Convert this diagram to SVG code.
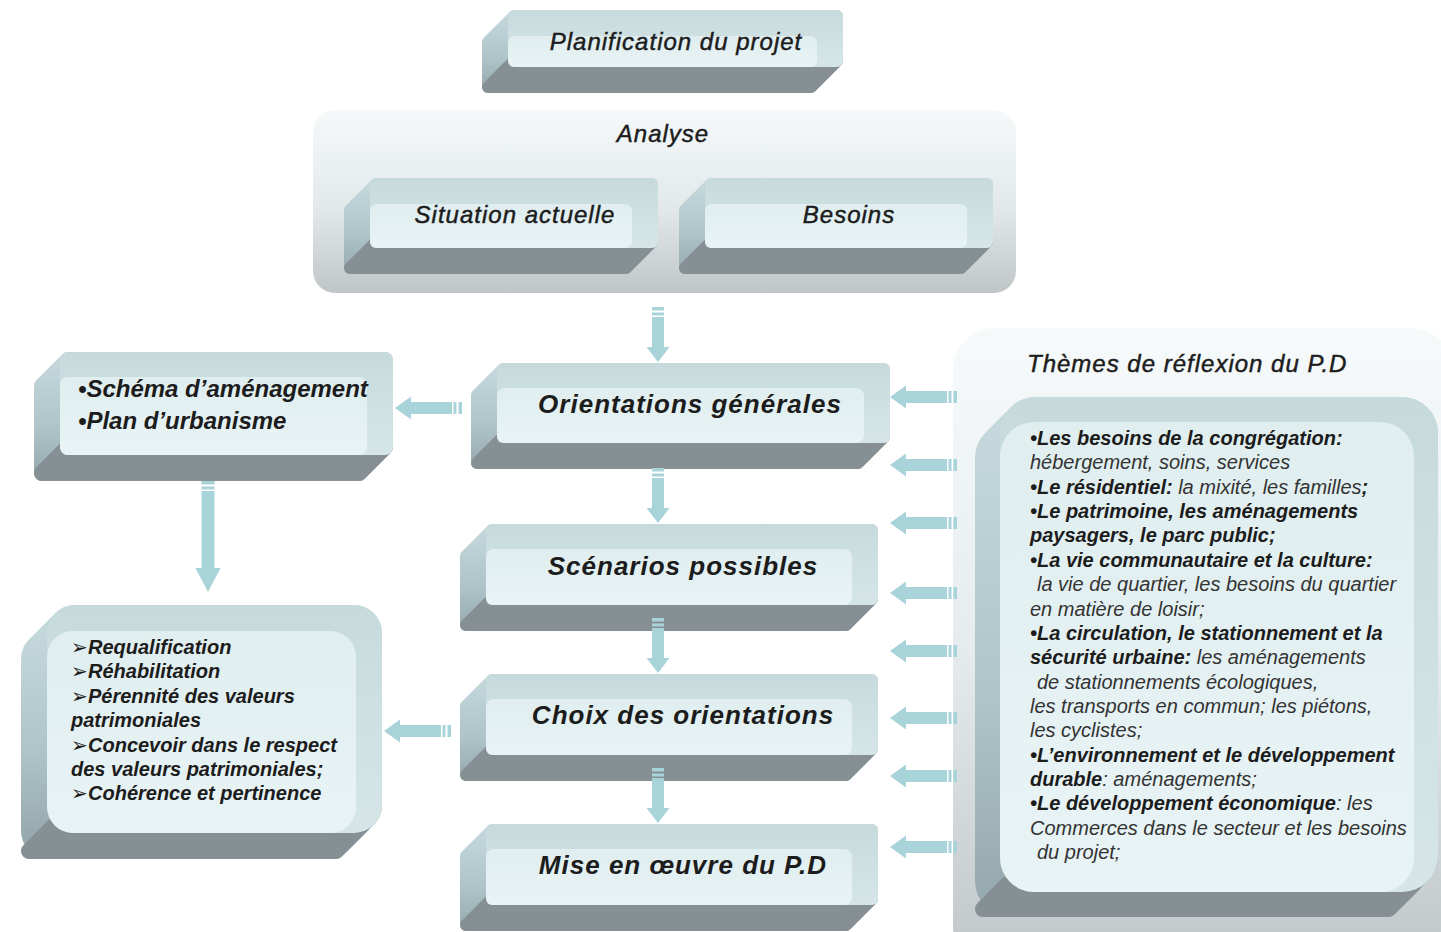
<svg xmlns="http://www.w3.org/2000/svg" width="1441" height="932" viewBox="0 0 1441 932">
<defs>
<linearGradient id="gSide" x1="0" y1="0" x2="0" y2="1">
<stop offset="0" stop-color="#c4d8dc"/><stop offset="0.6" stop-color="#aec4c9"/><stop offset="1" stop-color="#98abb0"/>
</linearGradient>
<linearGradient id="gBand" x1="0" y1="0" x2="0" y2="1">
<stop offset="0" stop-color="#c6dadc"/><stop offset="1" stop-color="#d6e6e8"/>
</linearGradient>
<linearGradient id="gInner" x1="0" y1="0" x2="0" y2="1">
<stop offset="0" stop-color="#e0eef0"/><stop offset="1" stop-color="#e8f3f5"/>
</linearGradient>
<linearGradient id="gCont" x1="0" y1="0" x2="0" y2="1">
<stop offset="0" stop-color="#f5f9fa"/><stop offset="0.55" stop-color="#e2e8ea"/><stop offset="1" stop-color="#c0c5c8"/>
</linearGradient>
<linearGradient id="gCont2" x1="0" y1="0" x2="0" y2="1">
<stop offset="0" stop-color="#f6fafb"/><stop offset="0.5" stop-color="#e6ecee"/><stop offset="1" stop-color="#c0c5c8"/>
</linearGradient>
<g id="a68" fill="#a8d4d9">
<path d="M0,0 L16,-11.5 L16,-6 L57,-6 L57,6 L16,6 L16,11.5 Z"/>
<rect x="58.5" y="-6" width="3" height="12"/><rect x="63.5" y="-6" width="3.5" height="12"/>
</g>
<g id="a56" fill="#a8d4d9">
<path d="M0,0 L15,-11.5 L15,-6 L45,-6 L45,6 L15,6 L15,11.5 Z"/>
<rect x="46.5" y="-6" width="3" height="12"/><rect x="51.5" y="-6" width="3.5" height="12"/>
</g>
<g id="a112" fill="#a8d4d9">
<path d="M0,0 L24,-12.5 L24,-6.5 L101,-6.5 L101,6.5 L24,6.5 L24,12.5 Z"/>
<rect x="102.5" y="-6.5" width="3" height="13"/><rect x="107.5" y="-6.5" width="3.5" height="13"/>
</g>
</defs>
<style>
.side{fill:url(#gSide);stroke:url(#gSide);stroke-linejoin:round}
.bot{fill:#858f94;stroke:#858f94;stroke-linejoin:round}
.front{fill:url(#gBand)}
.inner{fill:url(#gInner)}
text{font-family:'Liberation Sans','DejaVu Sans',Arial,sans-serif;fill:#1c1c1c;font-style:italic}
.t24{font-size:24px;letter-spacing:1px;stroke:#1c1c1c;stroke-width:0.45px}
.t26{font-size:26px;font-weight:bold;letter-spacing:1px}
.t24b{font-size:24px;font-weight:bold}
.t20{font-size:20px;font-weight:bold}
.p{font-size:20px}
.b{font-weight:bold;fill:#1c1c1c}
.i{font-weight:normal;fill:#333333}
</style>
<rect width="1441" height="932" fill="#ffffff"/>

<g id="analyse">
<rect x="313" y="110" width="703" height="183" rx="22" fill="url(#gCont)"/>
<text class="t24" x="663" y="141.5" text-anchor="middle">Analyse</text>
</g>

<g id="themes">
<rect x="953" y="328" width="500" height="640" rx="42" fill="url(#gCont2)"/>
<text class="t24" x="1027" y="371.5" letter-spacing="0.8">Thèmes de réflexion du P.D</text>
</g>

<g id="planification">
<path class="side" stroke-width="12" d="M514,16 L837,16 L837,61 L811,87 L488,87 L488,42 Z"/>
<path class="bot" stroke-width="12" d="M514,61 L837,61 L811,87 L488,87 Z"/>
<rect class="front" x="508" y="10" width="335" height="57" rx="6"/>
<rect class="inner" x="508" y="36" width="309" height="31" rx="7"/>
<text class="t24" x="676" y="49.5" text-anchor="middle">Planification du projet</text>
</g>

<g id="situation">
<path class="side" stroke-width="12" d="M376,184 L652,184 L652,242 L626,268 L350,268 L350,210 Z"/>
<path class="bot" stroke-width="12" d="M376,242 L652,242 L626,268 L350,268 Z"/>
<rect class="front" x="370" y="178" width="288" height="70" rx="6"/>
<rect class="inner" x="370" y="204" width="262" height="44" rx="7"/>
<text class="t24" x="515" y="222.5" text-anchor="middle">Situation actuelle</text>
</g>

<g id="besoins">
<path class="side" stroke-width="12" d="M711,184 L987,184 L987,242 L961,268 L685,268 L685,210 Z"/>
<path class="bot" stroke-width="12" d="M711,242 L987,242 L961,268 L685,268 Z"/>
<rect class="front" x="705" y="178" width="288" height="70" rx="6"/>
<rect class="inner" x="705" y="204" width="262" height="44" rx="7"/>
<text class="t24" x="849" y="222.5" text-anchor="middle">Besoins</text>
</g>

<g id="orientations">
<path class="side" stroke-width="12" d="M503,369 L884,369 L884,437 L858,463 L477,463 L477,395 Z"/>
<path class="bot" stroke-width="12" d="M503,437 L884,437 L858,463 L477,463 Z"/>
<rect class="front" x="497" y="363" width="393" height="80" rx="6"/>
<rect class="inner" x="497" y="388" width="367" height="55" rx="8"/>
<text class="t26" x="690" y="413" text-anchor="middle">Orientations générales</text>
</g>

<g id="scenarios">
<path class="side" stroke-width="12" d="M492,530 L872,530 L872,599 L846,625 L466,625 L466,556 Z"/>
<path class="bot" stroke-width="12" d="M492,599 L872,599 L846,625 L466,625 Z"/>
<rect class="front" x="486" y="524" width="392" height="81" rx="6"/>
<rect class="inner" x="486" y="549" width="366" height="56" rx="8"/>
<text class="t26" x="683" y="575" text-anchor="middle">Scénarios possibles</text>
</g>

<g id="choix">
<path class="side" stroke-width="12" d="M492,680 L872,680 L872,749 L846,775 L466,775 L466,706 Z"/>
<path class="bot" stroke-width="12" d="M492,749 L872,749 L846,775 L466,775 Z"/>
<rect class="front" x="486" y="674" width="392" height="81" rx="6"/>
<rect class="inner" x="486" y="699" width="366" height="56" rx="8"/>
<text class="t26" x="683" y="724" text-anchor="middle">Choix des orientations</text>
</g>

<g id="miseenoeuvre">
<path class="side" stroke-width="12" d="M492,830 L872,830 L872,899 L846,925 L466,925 L466,856 Z"/>
<path class="bot" stroke-width="12" d="M492,899 L872,899 L846,925 L466,925 Z"/>
<rect class="front" x="486" y="824" width="392" height="81" rx="6"/>
<rect class="inner" x="486" y="849" width="366" height="56" rx="8"/>
<text class="t26" x="683" y="874" text-anchor="middle">Mise en œuvre du P.D</text>
</g>

<g id="schema">
<path class="side" stroke-width="16" d="M68,360 L385,360 L385,447 L359,473 L42,473 L42,386 Z"/>
<path class="bot" stroke-width="16" d="M68,447 L385,447 L359,473 L42,473 Z"/>
<rect class="front" x="60" y="352" width="333" height="103" rx="8"/>
<rect class="inner" x="60" y="377" width="307" height="78" rx="8"/>
<text class="t24b" x="78" y="397">•Schéma d’aménagement</text>
<text class="t24b" x="78" y="429">•Plan d’urbanisme</text>
</g>

<g id="requalification">
<path class="side" stroke-width="56" d="M75,633 L354,633 L354,805 L328,831 L49,831 L49,659 Z"/>
<path class="bot" stroke-width="16" d="M55,825 L362,825 L336,851 L29,851 Z"/>
<rect class="front" x="47" y="605" width="335" height="228" rx="28"/>
<rect class="inner" x="47" y="631" width="309" height="202" rx="26"/>
<text class="t20">
<tspan x="71" y="654">➢</tspan><tspan x="88" y="654">Requalification</tspan>
<tspan x="71" y="678.4">➢</tspan><tspan x="88" y="678.4">Réhabilitation</tspan>
<tspan x="71" y="702.8">➢</tspan><tspan x="88" y="702.8">Pérennité des valeurs</tspan>
<tspan x="71" y="727.2">patrimoniales</tspan>
<tspan x="71" y="751.6">➢</tspan><tspan x="88" y="751.6">Concevoir dans le respect</tspan>
<tspan x="71" y="776">des valeurs patrimoniales;</tspan>
<tspan x="71" y="800.4">➢</tspan><tspan x="88" y="800.4">Cohérence et pertinence</tspan>
</text>
</g>

<g id="themes-liste">
<path class="side" stroke-width="72" d="M1036,433 L1402,433 L1402,856 L1377,881 L1011,881 L1011,458 Z"/>
<path class="bot" stroke-width="16" d="M1008,884 L1413.6,884 L1388.6,909 L983,909 Z"/>
<rect class="front" x="1000" y="397" width="438" height="495" rx="36"/>
<rect class="inner" x="1000" y="422" width="414" height="470" rx="34"/>
<text class="p">
<tspan x="1030" y="445" class="b">•Les besoins de la congrégation:</tspan>
<tspan x="1030" y="469.4" class="i">hébergement, soins, services</tspan>
<tspan x="1030" y="493.7" class="b">•Le résidentiel:</tspan><tspan class="i"> la mixité, les familles</tspan><tspan class="b">;</tspan>
<tspan x="1030" y="518.1" class="b">•Le patrimoine, les aménagements</tspan>
<tspan x="1030" y="542.4" class="b">paysagers, le parc public;</tspan>
<tspan x="1030" y="566.8" class="b">•La vie communautaire et la culture:</tspan>
<tspan x="1037" y="591.1" class="i">la vie de quartier, les besoins du quartier</tspan>
<tspan x="1030" y="615.5" class="i">en matière de loisir;</tspan>
<tspan x="1030" y="639.8" class="b">•La circulation, le stationnement et la</tspan>
<tspan x="1030" y="664.2" class="b">sécurité urbaine:</tspan><tspan class="i"> les aménagements</tspan>
<tspan x="1037" y="688.5" class="i">de stationnements écologiques,</tspan>
<tspan x="1030" y="712.9" class="i">les transports en commun; les piétons,</tspan>
<tspan x="1030" y="737.2" class="i">les cyclistes;</tspan>
<tspan x="1030" y="761.6" class="b">•L’environnement et le développement</tspan>
<tspan x="1030" y="785.9" class="b">durable</tspan><tspan class="i">: aménagements;</tspan>
<tspan x="1030" y="810.3" class="b">•Le développement économique</tspan><tspan class="i">: les</tspan>
<tspan x="1030" y="834.6" class="i">Commerces dans le secteur et les besoins</tspan>
<tspan x="1037" y="859" class="i">du projet;</tspan>
</text>
</g>

<g id="connectors">
<use href="#a56" transform="translate(658,362) rotate(-90)"/>
<use href="#a56" transform="translate(658,523) rotate(-90)"/>
<use href="#a56" transform="translate(658,673) rotate(-90)"/>
<use href="#a56" transform="translate(658,823) rotate(-90)"/>
<use href="#a112" transform="translate(208,592) rotate(-90)"/>
<use href="#a68" transform="translate(395,408)"/>
<use href="#a68" transform="translate(384,731)"/>
<use href="#a68" transform="translate(890,397)"/>
<use href="#a68" transform="translate(890,465)"/>
<use href="#a68" transform="translate(890,523)"/>
<use href="#a68" transform="translate(890,593)"/>
<use href="#a68" transform="translate(890,651)"/>
<use href="#a68" transform="translate(890,718)"/>
<use href="#a68" transform="translate(890,776)"/>
<use href="#a68" transform="translate(890,847)"/>
</g>
</svg>
